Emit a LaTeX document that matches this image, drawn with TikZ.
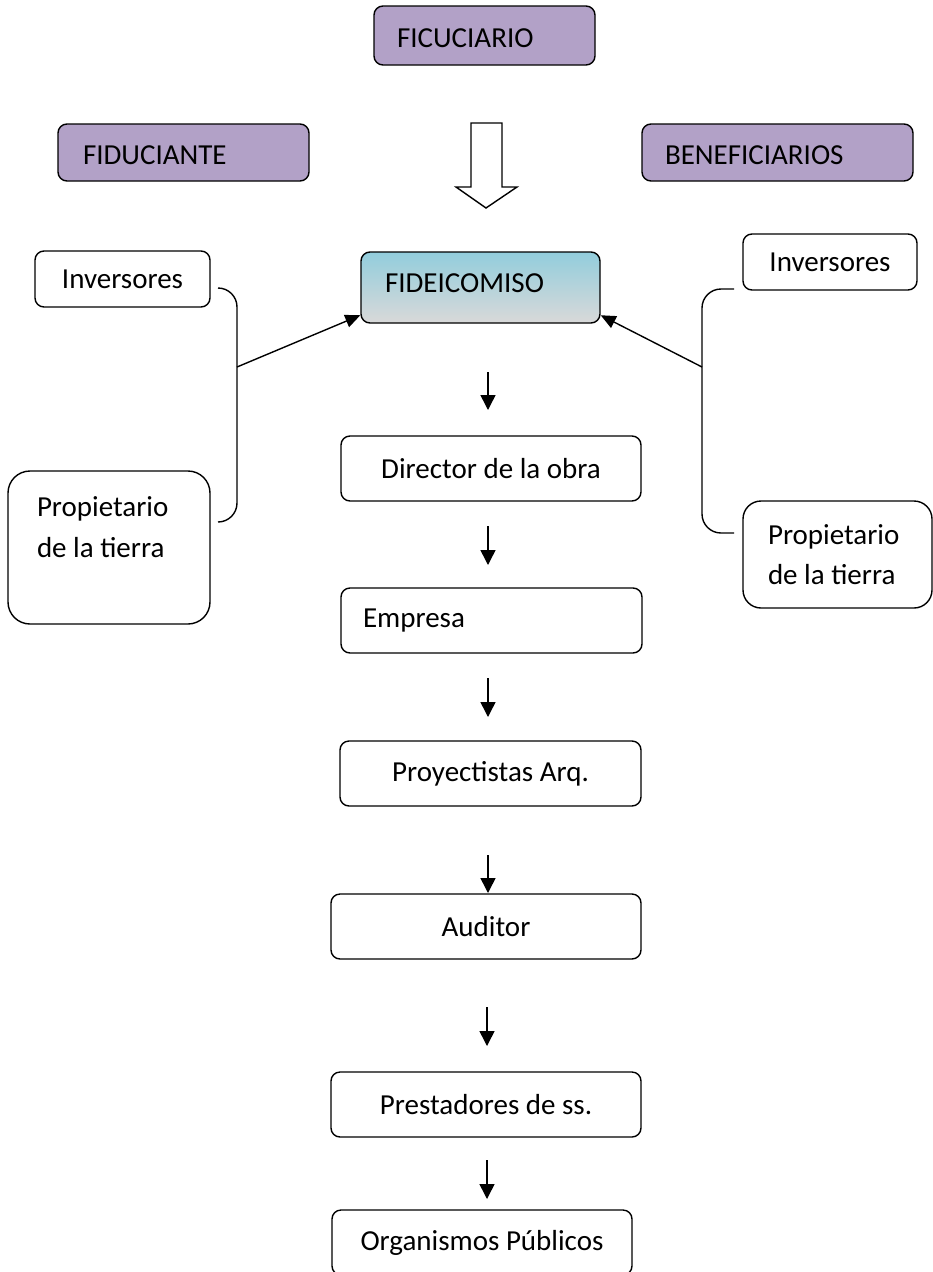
\documentclass[tikz,border=0pt]{standalone}
\usepackage{fontspec}
\setmainfont{Carlito}
\usetikzlibrary{arrows.meta}
\definecolor{lav}{RGB}{178,161,199}
\definecolor{fidetop}{RGB}{146,205,220}
\definecolor{fidebot}{RGB}{217,217,217}
\newcommand{\bigfont}{\fontsize{29pt}{40.5pt}\selectfont}
\begin{document}
\begin{tikzpicture}[x=1pt,y=-1pt,
  box/.style={draw, line width=1.4pt, rounded corners=9pt, inner ysep=0pt, font=\bigfont},
  cbox/.style={box, align=center, inner xsep=0pt},
  lbox/.style={box, align=flush left},
  role/.style={lbox, fill=lav, text height=24pt},
  flow/.style={line width=1.5pt, -{Triangle[length=15pt,width=15pt]}},
  feed/.style={line width=1.4pt, -{Triangle[length=15pt,width=13pt]}},
  brace/.style={line width=1.4pt, rounded corners=19pt}]
\useasboundingbox (0,0) rectangle (932,1272);
% roles
\node[role, text width=175pt, inner xsep=23pt, minimum height=59pt] (fic) at (484.5,35.5) {FICUCIARIO};
\node[role, text width=201pt, inner xsep=25pt, minimum height=57pt] (fiduc) at (183.5,152.5) {FIDUCIANTE};
\node[role, text width=225pt, inner xsep=23pt, minimum height=57pt] (benef) at (777.5,152.5) {BENEFICIARIOS};
% block arrow
\draw[line width=1.4pt, fill=white] (471,123) -- (502,123) -- (502,187) -- (517,187) -- (486,208) -- (456,187) -- (471,187) -- cycle;
% fideicomiso
\node[lbox, text width=191pt, inner xsep=24pt, minimum height=71pt, text depth=9pt, top color=fidetop, bottom color=fidebot] (fide) at (480.5,287.5) {FIDEICOMISO};
% left group
\node[cbox, minimum width=175pt, minimum height=56pt] (invL) at (122.5,279) {Inversores};
\node[lbox, rounded corners=22pt, text width=144pt, inner xsep=29pt, minimum height=153pt] (propL) at (109,547.5) {Propietario\\de la tierra\\\mbox{}};
% right group
\node[cbox, minimum width=174pt, minimum height=56pt] (invR) at (830,262) {Inversores};
\node[lbox, rounded corners=18pt, text width=139pt, inner xsep=25pt, minimum height=107pt] (propR) at (837.5,554.5) {Propietario\\de la tierra};
% braces
\draw[brace] (218,288) -- (237,288) -- (237,522) -- (218,522);
\draw[brace] (734,289) -- (702,289) -- (702,533) -- (734,533);
\coordinate (jl) at (237,367);
\coordinate (jr) at (702,367);
\draw[feed] (jl) -- (fide.193);
\draw[feed] (jr) -- (fide.-13);
% chain
\node[cbox, minimum width=300pt, minimum height=65pt] (dir) at (491,468.5) {Director de la obra};
\node[lbox, text width=257pt, inner xsep=22pt, minimum height=65pt] (emp) at (491.5,620.5) {Empresa};
\node[cbox, minimum width=301pt, minimum height=65pt] (proy) at (490.5,773.5) {Proyectistas Arq.};
\node[cbox, minimum width=310pt, minimum height=65pt] (aud) at (486,926.5) {Auditor};
\node[cbox, minimum width=310pt, minimum height=65pt] (prest) at (486,1104.5) {Prestadores de ss.};
\node[cbox, minimum width=300pt, minimum height=65pt] (org) at (482,1242.5) {Organismos Públicos};
% small arrows
\coordinate (a1s) at (488,372); \coordinate (a1e) at (488,410);
\coordinate (a2s) at (488,526); \coordinate (a2e) at (488,565);
\coordinate (a3s) at (488,678); \coordinate (a3e) at (488,717);
\coordinate (a4s) at (488,855); \coordinate (a4e) at (488,893);
\coordinate (a5s) at (487,1007); \coordinate (a5e) at (487,1046);
\coordinate (a6s) at (487,1160); \coordinate (a6e) at (487,1199);
\draw[flow] (a1s) -- (a1e);
\draw[flow] (a2s) -- (a2e);
\draw[flow] (a3s) -- (a3e);
\draw[flow] (a4s) -- (a4e);
\draw[flow] (a5s) -- (a5e);
\draw[flow] (a6s) -- (a6e);
\end{tikzpicture}
\end{document}
